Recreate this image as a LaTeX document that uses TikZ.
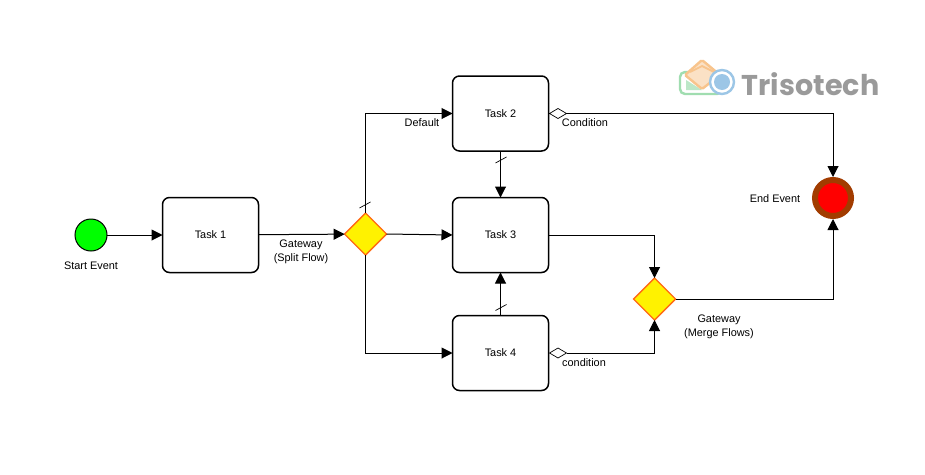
\documentclass[tikz,border=0pt]{standalone}
\usepackage{fontspec}
\setmainfont{Liberation Sans}
\newfontfamily\logofont{Poppins}[BoldFont=* Bold]
\usetikzlibrary{shapes.geometric,arrows.meta,calc}
\definecolor{gwline}{HTML}{FF6A13}
\definecolor{endring}{HTML}{A23C00}
\definecolor{logogreen}{HTML}{A0DDB0}
\definecolor{logoorange}{HTML}{F8C48C}
\definecolor{logoblue}{HTML}{9CC6E6}
\definecolor{logotext}{HTML}{9A9A9A}
\tikzset{
  x=1pt,y=-1pt,
  taskbox/.style={draw=black,line width=1.5pt,fill=white,rounded corners=7pt,minimum width=96pt,minimum height=75pt,inner sep=0pt,outer sep=0pt,font=\fontsize{10.9}{12}\selectfont},
  gateway/.style={diamond,draw=gwline,line width=1.4pt,fill=yellow,minimum width=42pt,minimum height=42pt,inner sep=0pt,outer sep=0pt,aspect=1},
  startev/.style={circle,draw=black,line width=1pt,fill=green,minimum size=32pt,inner sep=0pt,outer sep=0pt},
  endev/.style={circle,draw=endring,line width=6pt,fill=red,minimum size=36pt,inner sep=0pt,outer sep=3pt},
  condmark/.style={diamond,draw=black,line width=.7pt,fill=white,minimum width=17pt,minimum height=10pt,inner sep=0pt,outer sep=0pt},
  flow/.style={draw=black,line width=1pt,-{Triangle[length=11pt,width=11pt]}},
  tick/.style={draw=black,line width=.7pt},
  lab/.style={font=\fontsize{10.9}{14}\selectfont,align=center,inner sep=0pt},
}
\begin{document}
\begin{tikzpicture}
\useasboundingbox (0,0) rectangle (925,474);
\fill[white] (0,0) rectangle (925,474);
% logo
\draw[logogreen,line width=2.4pt,rounded corners=5pt] (680,72) rectangle (722,94);
\fill[logogreen!70] (686,80) -- (702,90) -- (686,90) -- cycle;
\draw[logoorange,line width=2.4pt,fill=logoorange!50,rounded corners=1.5pt] (702,60) -- (720,75) -- (702,89) -- (685,75) -- cycle;
\draw[logoorange,line width=1.8pt] (690,72) -- (702,66) -- (714,72);
\draw[logoblue,line width=2.4pt,fill=white] (722,82) circle (12);
\fill[logoblue] (722,82) circle (8);
\node[anchor=west,inner sep=0pt,text=logotext,font=\logofont\fontsize{28.6}{30}\selectfont\bfseries] (logo) at (741.5,84) {Trisotech};
% nodes
\node[startev] (start) at (91,235) {};
\node[taskbox] (t1) at (210.5,235) {Task 1};
\node[gateway] (g1) at (365.5,234) {};
\node[taskbox] (t2) at (500.5,113.5) {Task 2};
\node[taskbox] (t3) at (500.5,235) {Task 3};
\node[taskbox] (t4) at (500.5,353) {Task 4};
\node[gateway] (g2) at (654.5,299) {};
\node[endev] (end) at (833,198) {};
\node[condmark] (c2) at (558,113.5) {};
\node[condmark] (c4) at (558,353) {};
% flows
\draw[flow] (start) -- (t1);
\draw[flow] (t1) -- (g1);
\draw[flow] (g1.north) |- (t2.west);
\draw[flow] (g1.east) -- (t3.west);
\draw[flow] (g1.south) |- (t4.west);
\draw[flow] (t2.south) -- (t3.north);
\draw[flow] (t4.north) -- (t3.south);
\draw[flow] (c2.east) -| (end.north);
\draw[flow] (t3.east) -| (g2.north);
\draw[flow] (c4.east) -| (g2.south);
\draw[flow] (g2.east) -| (end.south);
% default ticks
\draw[tick] ($(g1.north)+(-6,-5)$) -- ($(g1.north)+(5,-11)$);
\draw[tick] ($(t2.south)+(-5,12)$) -- ($(t2.south)+(6,6)$);
\draw[tick] ($(t4.north)+(-5,-5)$) -- ($(t4.north)+(6,-11)$);
% labels
\node[lab] (lstart) at (91,265.5) {Start Event};
\node[lab] (lg1) at (301,251.5) {Gateway\\(Split Flow)};
\node[lab] (ldef) at (422,122.5) {Default};
\node[lab] (lc2) at (585,122.5) {Condition};
\node[lab] (lc4) at (584,362.5) {condition};
\node[lab] (lend) at (775,198.5) {End Event};
\node[lab] (lg2) at (719,327) {Gateway\\(Merge Flows)};
\end{tikzpicture}
\end{document}
